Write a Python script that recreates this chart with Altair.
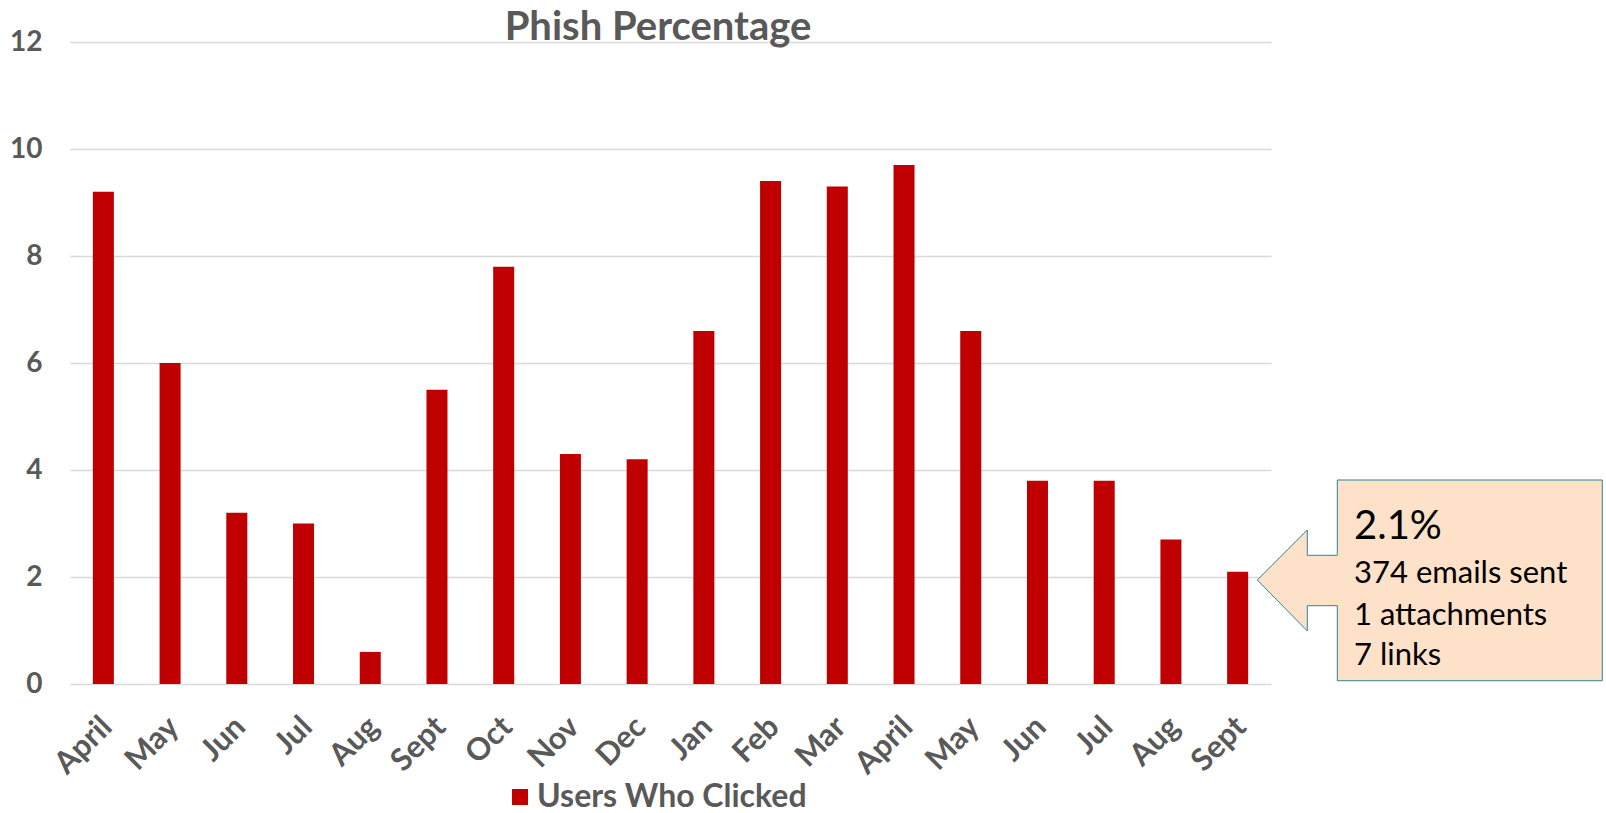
import json
import altair as alt
import pandas as pd

# ---- data ----
months = ["April", "May", "Jun", "Jul", "Aug", "Sept", "Oct", "Nov", "Dec",
          "Jan", "Feb", "Mar", "April", "May", "Jun", "Jul", "Aug", "Sept"]
clicked = [9.2, 6.0, 3.2, 3.0, 0.6, 5.5, 7.8, 4.3, 4.2,
           6.6, 9.4, 9.3, 9.7, 6.6, 3.8, 3.8, 2.7, 2.1]
series_name = "Users Who Clicked"
chart_title = "Phish Percentage"
y_ticks = [0, 2, 4, 6, 8, 10, 12]
callout_lines = ["2.1%", "374 emails sent", "1 attachments", " 7 links"]

df = pd.DataFrame({
    "idx": list(range(len(months))),
    "month": months,
    "value": clicked,
    "series": [series_name] * len(months),
})

FONT = "Lato"
GRAY = "#595959"
RED = "#C00000"

label_expr = json.dumps(months) + "[datum.value]"

bars = alt.Chart(df).mark_bar(color=RED).encode(
    x=alt.X("idx:O", title=None,
            scale=alt.Scale(paddingInner=0.685, paddingOuter=0.3425),
            axis=alt.Axis(labelExpr=label_expr, labelAngle=-45, labelAlign="right",
                          labelBaseline="middle", labelPadding=38, labelOffset=4,
                          ticks=False, domain=False, grid=False, labelFont=FONT,
                          labelFontSize=31, labelFontWeight="bold", labelColor=GRAY)),
    y=alt.Y("value:Q", title=None, scale=alt.Scale(domain=[0, 12], nice=False),
            axis=alt.Axis(values=y_ticks, grid=True, gridColor="#D9D9D9", gridWidth=1.5,
                          domain=False, ticks=False, labelPadding=28, labelFont=FONT,
                          labelFontSize=28, labelFontWeight="bold", labelColor=GRAY)),
    color=alt.Color("series:N", scale=alt.Scale(range=[RED]),
                    legend=alt.Legend(orient="none", legendX=434, legendY=739, title=None,
                                      symbolType="square", symbolSize=256,
                                      symbolStrokeWidth=0, labelFont=FONT,
                                      labelFontSize=32, labelFontWeight="bold",
                                      labelColor=GRAY, labelOffset=1, padding=0,
                                      labelLimit=600)),
)

title = alt.Chart(pd.DataFrame({"t": [chart_title]})).mark_text(
    align="center", baseline="alphabetic", font=FONT, fontSize=40, fontWeight="bold",
    color=GRAY,
).encode(text="t:N", x=alt.value(588), y=alt.value(-2.5))

# callout shape (box + left-pointing arrow), custom symbol path in [-1, 1] space
callout_path = ("M -1 0 L -0.7101 -0.2899 L -0.7101 -0.1432 L -0.5362 -0.1432 "
                "L -0.5362 -0.5797 L 1 -0.5797 L 1 0.5838 L -0.5362 0.5838 "
                "L -0.5362 0.149 L -0.7101 0.149 L -0.7101 0.2957 Z")

callout = alt.Chart(pd.DataFrame({"k": ["callout"]})).mark_point(
    shape=callout_path, size=345 * 345, filled=True, fill="#FDE1C9",
    stroke="#31849B", strokeWidth=1, opacity=1,
).encode(x=alt.value(1359.8), y=alt.value(538))

text_specs = [  # (x px, baseline y px, font size)
    (1284, 497, 40),
    (1284, 541, 31),
    (1284, 583, 31),
    (1284, 623, 31),
]
texts = []
for line, (tx, ty, fs) in zip(callout_lines, text_specs):
    shown = ("\u00a0" + line[1:]) if line.startswith(" ") else line
    t = alt.Chart(pd.DataFrame({"t": [shown]})).mark_text(
        align="left", baseline="alphabetic", font=FONT, fontSize=fs, color="black",
    ).encode(text="t:N", x=alt.value(tx), y=alt.value(ty))
    texts.append(t)

chart = alt.layer(bars, title, callout, *texts).properties(
    width=1201, height=642,
    autosize=alt.AutoSizeParams(type="none"),
    padding={"left": 70, "top": 42, "right": 335, "bottom": 129},
    background="white",
).configure_view(stroke=None)

chart.save("out.html", embed_options={"renderer": "svg", "actions": False})
